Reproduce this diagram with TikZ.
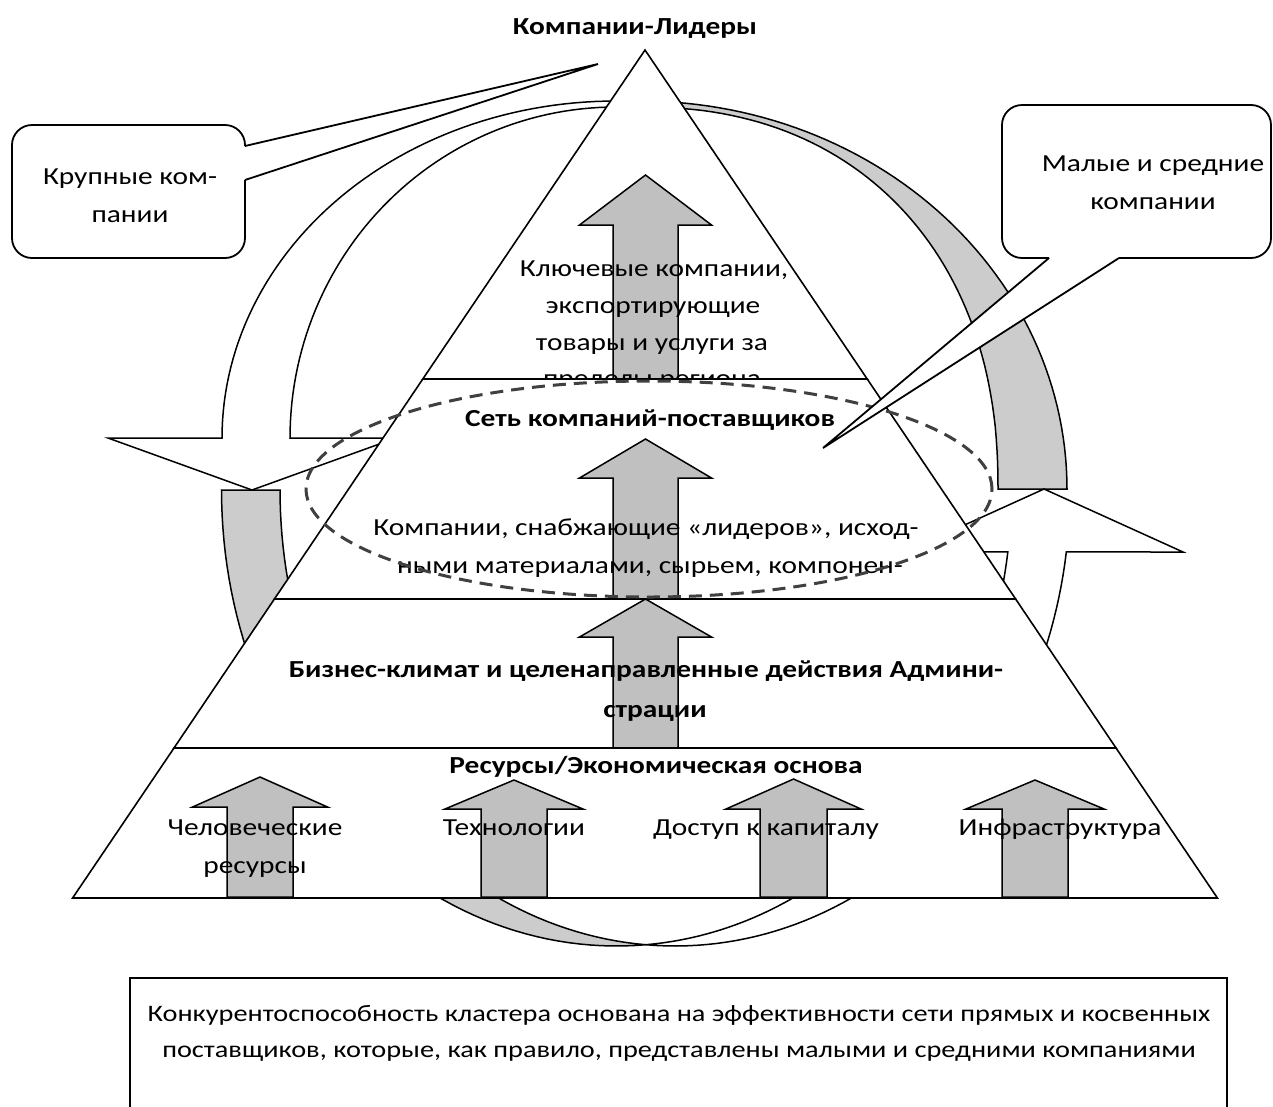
\documentclass[tikz,border=0pt]{standalone}
\usepackage{fontspec}
\setmainfont{Carlito}[FakeStretch=1.2]
\definecolor{bandgray}{HTML}{CCCCCC}
\definecolor{arrgray}{HTML}{C0C0C0}
\definecolor{dashc}{HTML}{404040}
\newcommand\barrowup[6]{%
  \filldraw[blk] ({#1},{#2}) -- ({#1+#5},{#3}) -- ({#1+#6},{#3}) -- ({#1+#6},{#4})
   -- ({#1-#6},{#4}) -- ({#1-#6},{#3}) -- ({#1-#5},{#3}) -- cycle;}
\begin{document}
\begin{tikzpicture}[x=1pt,y=-1pt,
  ln/.style={line width=1.5pt, line join=miter},
  band/.style={ln, fill=bandgray},
  wband/.style={ln, fill=white},
  blk/.style={line width=1.5pt, fill=arrgray, draw=black, line join=miter},
  lay/.style={line width=1.6pt, fill=white, draw=black},
  tx/.style={font=\fontsize{24.5}{29}\selectfont, inner sep=0pt, anchor=base},
  bx/.style={font=\bfseries\fontsize{24.5}{29}\selectfont, inner sep=0pt, anchor=base},
  nt/.style={font=\fontsize{23.6}{29}\selectfont, inner sep=0pt, anchor=base},
  call/.style={line width=1.8pt, draw=black},
  dashell/.style={draw=dashc, line width=3pt, dash pattern=on 13pt off 8pt}]
\useasboundingbox (0,0) rectangle (1273,1106);
\fill[white] (0,0) rectangle (1273,1106);

% ---------- curved arrow A (top, pointing down at left) ----------
% right (shaded) part
\filldraw[band] plot[domain=0:90, variable=\t, samples=60] ({640+427*cos(\t)},{489-388*sin(\t)})
  -- (640,107) --
  plot[domain=89.5:0, variable=\t, samples=60] ({640+358*(cos(\t))^0.9},{489-382*(sin(\t))^0.9}) -- cycle;
% left (front) part with head
\filldraw[wband] plot[domain=90:180, variable=\t, samples=60] ({616+394*cos(\t)},{438-337*sin(\t)})
  -- (108,438) -- (252,490) -- (396,438) --
  plot[domain=180:90, variable=\t, samples=60] ({616+326*cos(\t)},{438-331*sin(\t)}) -- cycle;

% ---------- curved arrow B (bottom, pointing up at right) ----------
\filldraw[band] plot[domain=180:85.75, variable=\t, samples=60] ({616.5+395*cos(\t)},{490+456*sin(\t)})
  -- plot[domain=94.25:180, variable=\t, samples=60] ({675+395*cos(\t)},{490+456*sin(\t)}) -- cycle;
\filldraw[wband] plot[domain=94.25:7.81, variable=\t, samples=60] ({675+395*cos(\t)},{490+456*sin(\t)})
  -- (1183,552) -- (1044,489) -- (905,552) --
  plot[domain=7.81:85.75, variable=\t, samples=60] ({616.5+395*cos(\t)},{490+456*sin(\t)}) -- cycle;

% ---------- pyramid ----------
% layer 1
\filldraw[lay] (645,50) -- (867.2,379) -- (422.8,379) -- cycle;
\barrowup{645.5}{175}{225}{379}{66}{32.5}
\node[tx] (k1) at (654,276) {Ключевые компании,};
\node[tx] (k2) at (653,313) {экспортирующие};
\node[tx] (k3) at (652,350) {товары и услуги за};
\node[tx] (k4) at (652,386) {пределы региона};
% layer 2
\filldraw[lay] (422.8,379) -- (867.2,379) -- (1015.6,599) -- (274.4,599) -- cycle;
\barrowup{645.5}{439}{478}{599}{66}{32.5}
\node[bx] (s1) at (650,426) {Сеть компаний-поставщиков};
\node[tx] (s2) at (646,535) {Компании, снабжающие «лидеров», исход-};
\node[tx] (s3) at (650,573) {ными материалами, сырьем, компонен-};
% layer 3
\filldraw[lay] (274.4,599) -- (1015.6,599) -- (1116,748) -- (174,748) -- cycle;
\barrowup{645.5}{599}{637}{748}{66}{32.5}
\node[bx] (b1) at (646,677) {Бизнес-климат и целенаправленные действия Админи-};
\node[bx] (b2) at (655,717) {страции};
% layer 4
\filldraw[lay] (174,748) -- (1116,748) -- (1217.4,898) -- (72.6,898) -- cycle;
\barrowup{260}{777}{807}{897}{67.5}{33}
\barrowup{514}{780}{809}{897}{69}{33}
\barrowup{793.5}{779}{809}{897}{67.5}{33.5}
\barrowup{1035}{780}{809}{897}{69}{33}
\node[bx] (r1) at (656,773) {Ресурсы/Экономическая основа};
\node[tx] (r2) at (255,835) {Человеческие};
\node[tx] (r3) at (255,873) {ресурсы};
\node[tx] (r4) at (514,835) {Технологии};
\node[tx] (r5) at (766,835) {Доступ к капиталу};
\node[tx] (r6) at (1060,835) {Инфраструктура};

% ---------- dashed ellipse ----------
\draw[dashell] (649,489) ellipse [x radius=343pt, y radius=108pt];

% ---------- title ----------
\node[bx] (title) at (635,34) {Компании-Лидеры};

% ---------- left callout ----------
\fill[white, rounded corners=20pt] (245,180) -- (245,258) -- (12,258) -- (12,125) -- (245,125) -- (245,146) -- cycle;
\fill[white] (245,146) -- (598,64) -- (245,180) -- cycle;
\draw[call, rounded corners=20pt] (245,180) -- (245,258) -- (12,258) -- (12,125) -- (245,125) -- (245,146);
\draw[call, line join=miter] (245,146) -- (598,64) -- (245,180);
\node[tx] (c1) at (130,184) {Крупные ком-};
\node[tx] (c2) at (130,222) {пании};

% ---------- right callout ----------
\fill[white, rounded corners=20pt] (1119,258) -- (1271,258) -- (1271,105) -- (1002,105) -- (1002,258) -- (1049,258) -- cycle;
\fill[white] (1049,258) -- (823,448) -- (1119,258) -- cycle;
\draw[call, rounded corners=20pt] (1119,258) -- (1271,258) -- (1271,105) -- (1002,105) -- (1002,258) -- (1049,258);
\draw[call, line join=miter] (1049,258) -- (823,448) -- (1119,258);
\node[tx] (m1) at (1153,171) {Малые и средние};
\node[tx] (m2) at (1153,209) {компании};

% ---------- bottom box ----------
\draw[line width=1.5pt] (130,978) rectangle (1227,1130);
\node[nt] (n1) at (679,1021) {Конкурентоспособность кластера основана на эффективности сети прямых и косвенных};
\node[nt] (n2) at (679,1057) {поставщиков, которые, как правило, представлены малыми и средними компаниями};
\end{tikzpicture}
\end{document}
